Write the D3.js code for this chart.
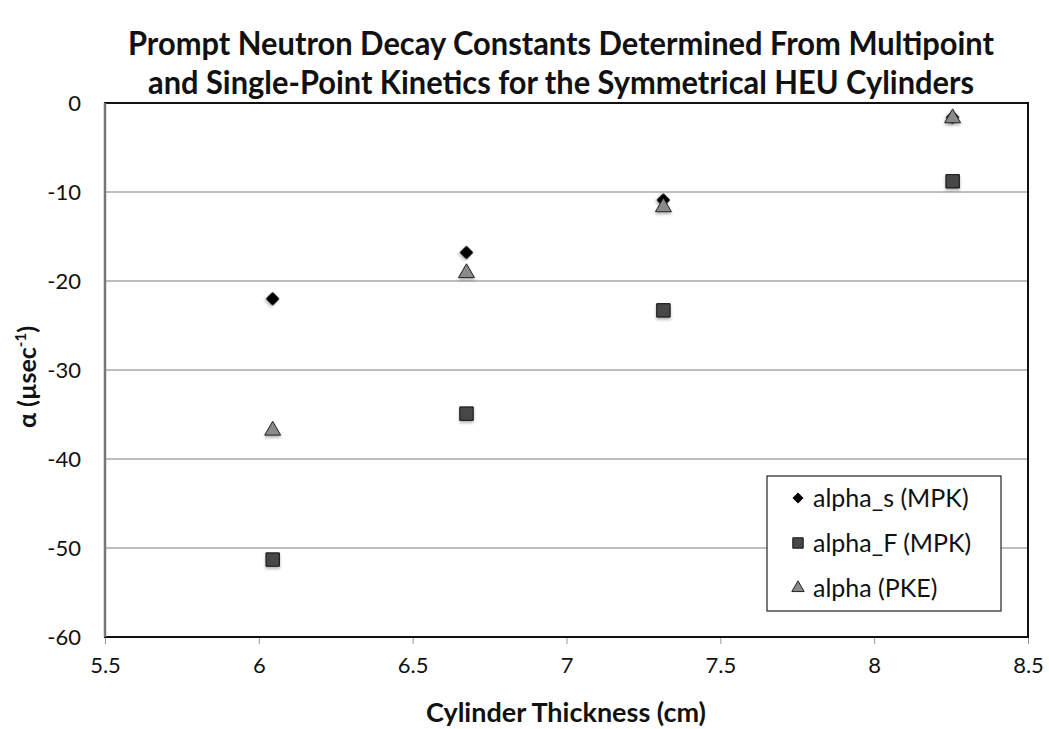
<!DOCTYPE html>
<html>
<head>
<meta charset="utf-8">
<title>Prompt Neutron Decay Constants</title>
<script src="https://d3js.org/d3.v7.min.js"></script>
<style>
  body { margin: 0; background: #fff; font-family: 'Lato', 'Open Sans', sans-serif; }
  .tick text { font-size: 22px; fill: #111; font-family: 'Lato', sans-serif; }
</style>
</head>
<body>
<svg width="1049" height="729"></svg>
<script>
// data
var thickness = [6.045, 6.675, 7.315, 8.255];
var alphaS = [-22.0, -16.8, -10.9, -1.6];   // alpha_s (MPK)
var alphaF = [-51.3, -34.9, -23.3, -8.8];   // alpha_F (MPK)
var alphaP = [-36.8, -19.1, -11.7, -1.7];   // alpha (PKE)
var xTicks = [5.5, 6, 6.5, 7, 7.5, 8, 8.5];
var yTicks = [0, -10, -20, -30, -40, -50, -60];

var series = [
  { name: "alpha_s (MPK)", values: alphaS, symbol: d3.symbolSquare, rot: 45, size: 75, fill: "#000", stroke: "#000" },
  { name: "alpha_F (MPK)", values: alphaF, symbol: d3.symbolSquare, rot: 0, size: 180, fill: "#474747", stroke: "#111" },
  { name: "alpha (PKE)", values: alphaP, symbol: d3.symbolTriangle, rot: 0, size: 110, fill: "#8a8a8a", stroke: "#222" }
];

var svg = d3.select("svg");
var plotL = 105, plotR = 1028, plotT = 103, plotB = 637;

var x = d3.scaleLinear().domain([5.5, 8.5]).range([plotL, plotR]);
var y = d3.scaleLinear().domain([-60, 0]).range([plotB, plotT]);
var fmt = d => String(d);

// soft shadow under markers
var defs = svg.append("defs");
var f = defs.append("filter").attr("id", "shadow").attr("x", "-50%").attr("y", "-50%").attr("width", "200%").attr("height", "200%");
f.append("feDropShadow").attr("dx", 0).attr("dy", 2).attr("stdDeviation", 1.5).attr("flood-color", "#000").attr("flood-opacity", 0.3);

// gridlines
svg.append("g")
  .selectAll("line")
  .data(yTicks.filter(d => d > -60 && d < 0))
  .enter().append("line")
  .attr("x1", plotL).attr("x2", plotR)
  .attr("y1", d => y(d)).attr("y2", d => y(d))
  .attr("stroke", "#a8a8a8").attr("stroke-width", 1.5);

// axes
var xAxis = svg.append("g")
  .attr("transform", "translate(0," + plotB + ")")
  .call(d3.axisBottom(x).tickValues(xTicks).tickFormat(fmt).tickSize(7).tickPadding(13));
xAxis.select(".domain").remove();
xAxis.selectAll(".tick line").attr("stroke", "#999");

var yAxis = svg.append("g")
  .attr("transform", "translate(" + plotL + ",0)")
  .call(d3.axisLeft(y).tickValues(yTicks).tickFormat(fmt).tickSize(0).tickPadding(24));
yAxis.select(".domain").remove();

// plot border
svg.append("rect")
  .attr("x", plotL).attr("y", plotT)
  .attr("width", plotR - plotL).attr("height", plotB - plotT)
  .attr("fill", "none").attr("stroke", "#111").attr("stroke-width", 2);
svg.append("line")
  .attr("x1", plotL).attr("x2", plotL).attr("y1", plotT).attr("y2", plotB)
  .attr("stroke", "#777").attr("stroke-width", 2.5);

// points
series.forEach(function (s) {
  svg.append("g")
    .selectAll("path")
    .data(s.values)
    .enter().append("path")
    .attr("d", d3.symbol().type(s.symbol).size(s.size))
    .attr("transform", (d, i) => "translate(" + x(thickness[i]) + "," + y(d) + ") rotate(" + s.rot + ")")
    .attr("fill", s.fill).attr("stroke", s.stroke).attr("stroke-width", 1)
    .attr("filter", "url(#shadow)");
});

// legend
var lg = svg.append("g").attr("transform", "translate(767,476)");
lg.append("rect").attr("width", 234).attr("height", 135)
  .attr("fill", "#fff").attr("stroke", "#222").attr("stroke-width", 1.2);
series.forEach(function (s, i) {
  var yy = 22 + i * 45;
  lg.append("path")
    .attr("d", d3.symbol().type(s.symbol).size(s.size * 0.6))
    .attr("transform", "translate(31," + yy + ") rotate(" + s.rot + ")")
    .attr("fill", s.fill).attr("stroke", s.stroke);
  lg.append("text").attr("x", 46).attr("y", yy).attr("dy", "0.35em")
    .attr("font-size", 25).attr("fill", "#111").text(s.name);
});

// titles
var title = svg.append("text").attr("text-anchor", "middle")
  .attr("font-weight", "bold").attr("font-size", 32).attr("fill", "#111");
title.append("tspan").attr("x", 561).attr("y", 55)
  .attr("textLength", 866).attr("lengthAdjust", "spacingAndGlyphs")
  .text("Prompt Neutron Decay Constants Determined From Multipoint");
title.append("tspan").attr("x", 561).attr("y", 94)
  .attr("textLength", 826).attr("lengthAdjust", "spacingAndGlyphs")
  .text("and Single-Point Kinetics for the Symmetrical HEU Cylinders");

svg.append("text")
  .attr("x", 566).attr("y", 722).attr("text-anchor", "middle")
  .attr("font-weight", "bold").attr("font-size", 26).attr("fill", "#111")
  .attr("textLength", 280).attr("lengthAdjust", "spacingAndGlyphs")
  .text("Cylinder Thickness (cm)");

var yt = svg.append("text")
  .attr("transform", "translate(36,377) rotate(-90)")
  .attr("text-anchor", "middle")
  .attr("font-weight", "bold").attr("font-size", 25).attr("fill", "#111");
yt.append("tspan").text("α (µsec");
yt.append("tspan").attr("font-size", 15).attr("dy", -10).text("-1");
yt.append("tspan").attr("dy", 10).text(")");
</script>
</body>
</html>
